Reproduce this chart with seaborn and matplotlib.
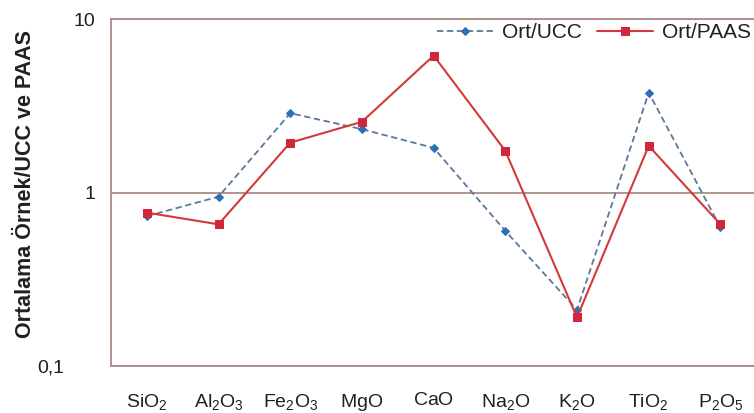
import matplotlib
matplotlib.use("Agg")
import matplotlib.pyplot as plt
import matplotlib.transforms as mtransforms
import seaborn as sns
import pandas as pd

categories = ["SiO2", "Al2O3", "Fe2O3", "MgO", "CaO", "Na2O", "K2O", "TiO2", "P2O5"]
tick_labels = [r"$\mathregular{SiO_2}$", r"$\mathregular{Al_2O_3}$", r"$\mathregular{Fe_2O_3}$",
               r"$\mathregular{MgO}$", r"$\mathregular{CaO}$", r"$\mathregular{Na_2O}$",
               r"$\mathregular{K_2O}$", r"$\mathregular{TiO_2}$", r"$\mathregular{P_2O_5}$"]
ort_ucc = [0.73, 0.946, 2.87, 2.32, 1.81, 0.60, 0.21, 3.77, 0.63]
ort_paas = [0.765, 0.655, 1.94, 2.56, 6.17, 1.74, 0.19, 1.86, 0.655]
y_ticks = [0.1, 1, 10]
y_tick_labels = ["0,1", "1", "10"]

sns.set_theme(style="white")
plt.rcParams["font.family"] = ["Liberation Sans", "DejaVu Sans"]
plt.rcParams["mathtext.fontset"] = "custom"
plt.rcParams["mathtext.rm"] = "Liberation Sans"

text_col = "#231f20"
spine_col = "#a88e86"

df_ucc = pd.DataFrame({"cat": categories, "val": ort_ucc})
df_paas = pd.DataFrame({"cat": categories, "val": ort_paas})

fig = plt.figure(figsize=(7.54, 4.13), dpi=100)
ax = fig.add_axes([111 / 754, 1 - 365.7 / 413, (754 - 111) / 754 + 0.003, (365.7 - 19.3) / 413])

sns.lineplot(data=df_ucc, x="cat", y="val", ax=ax, sort=False, color="#5a789e",
             linestyle=(0, (3.5, 2)), linewidth=1.3, marker="D", markersize=4,
             markerfacecolor="#2f6fb5", markeredgecolor="#2f6fb5", label="Ort/UCC")
sns.lineplot(data=df_paas, x="cat", y="val", ax=ax, sort=False, color="#d3393b",
             linewidth=1.5, marker="s", markersize=6,
             markerfacecolor="#d0283a", markeredgecolor="#d0283a", label="Ort/PAAS")

ax.set_yscale("log")
ax.set_ylim(0.1, 10)
ax.set_xlim(-0.5, len(categories) - 0.5)
ax.set_yticks(y_ticks)
ax.set_yticklabels(y_tick_labels)
ax.yaxis.set_minor_locator(matplotlib.ticker.NullLocator())
ax.set_xticks(range(len(categories)))
ax.set_xticklabels(tick_labels)

ax.grid(axis="y", which="major", color=spine_col, linewidth=1.3)
ax.set_axisbelow(True)
for s in ["left", "bottom", "top", "right"]:
    ax.spines[s].set_color(spine_col)
    ax.spines[s].set_linewidth(1.3)

ax.tick_params(axis="x", length=0, pad=19, labelsize=14, labelcolor=text_col)
ax.tick_params(axis="y", length=0, pad=11, labelsize=14, labelcolor=text_col)

ax.set_xlabel("")
ax.set_ylabel("Ortalama Örnek/UCC ve PAAS", fontsize=15.5, fontweight="bold", color=text_col)
ax.yaxis.set_label_coords(-0.116, 0.523)

# shift "0,1" label leftwards as in reference
for lab in ax.get_yticklabels():
    if lab.get_text() == "0,1":
        lab.set_transform(lab.get_transform() + mtransforms.ScaledTranslation(-0.31, 0, fig.dpi_scale_trans))

leg = ax.legend(loc="upper left", bbox_to_anchor=(0.505, 0.989), ncol=2, frameon=False,
                fontsize=15, handlelength=2.7, handletextpad=0.43, columnspacing=0.72,
                borderpad=0, borderaxespad=0)
for t in leg.get_texts():
    t.set_color(text_col)

fig.savefig("out.png", dpi=100, facecolor="white")
